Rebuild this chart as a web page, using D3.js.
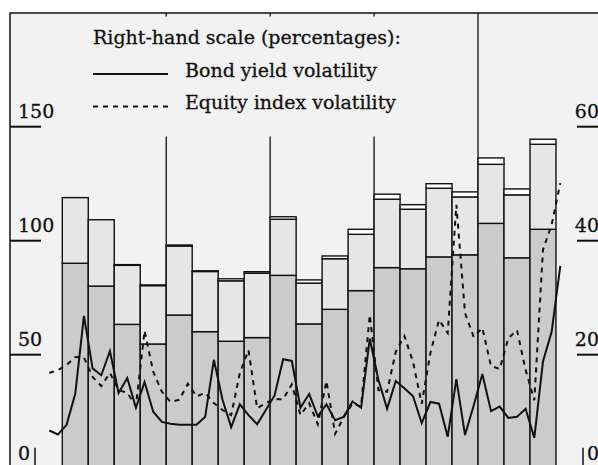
<!DOCTYPE html>
<html>
<head>
<meta charset="utf-8">
<script src="https://cdn.jsdelivr.net/npm/d3@7"></script>
<style>
  html, body { margin: 0; padding: 0; background: #fff; }
  svg { display: block; }
  text { font-family: "DejaVu Serif", "Liberation Serif", serif; fill: #111; stroke: #111; stroke-width: 0.3px; }
</style>
</head>
<body>
<div id="chart"></div>
<script>
var width = 598,
    height = 465;

// quarters (stacked bars, left-hand scale)
var quarters = ["Q1 Y1","Q2 Y1","Q3 Y1","Q4 Y1",
                "Q1 Y2","Q2 Y2","Q3 Y2","Q4 Y2",
                "Q1 Y3","Q2 Y3","Q3 Y3","Q4 Y3",
                "Q1 Y4","Q2 Y4","Q3 Y4","Q4 Y4",
                "Q1 Y5","Q2 Y5","Q3 Y5"];
var lowerPart = [90.1, 80.1, 63.3, 54.7, 67.4, 60.1, 55.9, 57.5, 84.8, 63.5,
                 69.9, 78.1, 88.2, 87.7, 92.9, 93.8, 107.6, 92.5, 105.0];
var upperPart = [28.8, 29.1, 25.9, 25.6, 30.3, 26.4, 26.5, 28.2, 24.6, 17.9,
                 22.2, 24.7, 30.0, 26.1, 30.1, 25.4, 25.9, 27.6, 37.3];
var topPart   = [0.0, 0.0, 0.3, 0.3, 0.4, 0.3, 0.9, 0.7, 1.1, 1.4,
                 1.2, 2.2, 2.2, 2.0, 2.0, 2.2, 2.8, 2.6, 2.2];

// monthly volatilities (right-hand scale, percentages)
var bondVol = [6.7, 6.0, 7.7, 13.2, 26.8, 17.6, 16.4, 20.6, 13.3, 15.9,
               10.7, 15.2, 10.0, 8.2, 7.9, 7.7, 7.7, 7.7, 9.1, 19.1,
               12.1, 7.3, 11.3, 9.4, 7.8, 10.3, 12.8, 19.2, 18.9, 10.7,
               13.1, 9.2, 11.3, 8.5, 9.1, 11.8, 10.7, 22.8, 15.6, 10.5,
               15.4, 14.1, 12.7, 8.0, 11.7, 11.4, 5.6, 15.7, 5.9, 11.1,
               16.6, 10.1, 10.9, 8.9, 9.1, 10.5, 5.4, 18.8, 24.0, 35.6];
var equityVol = [16.8, 17.3, 18.2, 19.6, 19.5, 16.1, 14.5, 16.8, 13.8, 13.3,
                 11.0, 24.2, 17.0, 13.5, 11.7, 12.1, 14.9, 12.7, 13.3, 11.5,
                 10.3, 9.4, 16.8, 20.8, 10.6, 11.5, 12.2, 12.2, 14.8, 9.4,
                 11.5, 7.8, 15.4, 6.1, 9.1, 11.4, 10.9, 27.0, 13.8, 13.5,
                 20.5, 23.3, 18.7, 11.4, 20.3, 26.1, 23.8, 46.3, 27.3, 23.1,
                 24.7, 18.0, 17.5, 22.9, 24.3, 17.3, 12.0, 38.4, 42.8, 50.1];

var leftTicks = [0, 50, 100, 150];
var rightTicks = [0, 20, 40, 60];
var yearBreaks = [13.5, 25.5, 37.5, 49.5];   // in months

var svg = d3.select("#chart")
    .append("svg")
    .attr("width", width)
    .attr("height", height);

// month index -> x
var x = d3.scaleLinear().domain([0, 59]).range([49.3, 560.3]);
var yL = d3.scaleLinear().domain([0, 150]).range([468.7, 126.7]);
var yR = d3.scaleLinear().domain([0, 60]).range([468.7, 126.7]);

/* background and frame */
svg.append("rect")
    .attr("x", 10).attr("y", 13)
    .attr("width", width - 10).attr("height", height - 13)
    .style("fill", "#f2f2f2");
svg.append("path")
    .attr("d", "M10," + height + "V13H" + width)
    .style("fill", "none").style("stroke", "#111").style("stroke-width", 1.5);

/* year separators */
svg.selectAll(".year")
    .data(yearBreaks)
    .enter().append("line")
    .attr("x1", function(d) { return x(d); })
    .attr("x2", function(d) { return x(d); })
    .attr("y1", 13).attr("y2", height)
    .style("stroke", "#111").style("stroke-width", 1.3);

/* legend (its background hides the separators) */
svg.append("rect")
    .attr("x", 84).attr("y", 16.5).attr("width", 340).attr("height", 120)
    .style("fill", "#f2f2f2");
svg.append("text").attr("x", 93).attr("y", 43.5)
    .style("font-size", "19px").text("Right-hand scale (percentages):");
svg.append("line").attr("x1", 93).attr("x2", 168).attr("y1", 74).attr("y2", 74)
    .style("stroke", "#111").style("stroke-width", 2);
svg.append("text").attr("x", 185).attr("y", 76.5)
    .style("font-size", "19px").text("Bond yield volatility");
svg.append("line").attr("x1", 93).attr("x2", 168).attr("y1", 106.5).attr("y2", 106.5)
    .style("stroke", "#111").style("stroke-width", 2).style("stroke-dasharray", "5,5");
svg.append("text").attr("x", 185).attr("y", 108.5)
    .style("font-size", "19px").text("Equity index volatility");

/* stacked bars */
var stacks = quarters.map(function(q, i) {
    var a = lowerPart[i], b = a + upperPart[i], c = b + topPart[i];
    return [{q: i, y0: 0, y1: a, fill: "#cbcbcb"},
            {q: i, y0: a, y1: b, fill: "#e6e6e6"},
            {q: i, y0: b, y1: c, fill: "#ffffff"}];
});
var bars = svg.append("g");
stacks.forEach(function(s) {
    bars.selectAll(null)
        .data(s.filter(function(d) { return d.y1 > d.y0; }))
        .enter().append("rect")
        .attr("x", function(d) { return x(1.5 + 3 * d.q); })
        .attr("width", function(d) { return x(4.5 + 3 * d.q) - x(1.5 + 3 * d.q); })
        .attr("y", function(d) { return yL(d.y1); })
        .attr("height", function(d) { return yL(d.y0) - yL(d.y1); })
        .style("fill", function(d) { return d.fill; })
        .style("stroke", "#111")
        .style("stroke-width", 1.4);
});

/* volatility lines */
var line = d3.line()
    .x(function(d, i) { return x(i); })
    .y(function(d) { return yR(d); });
svg.append("path").datum(equityVol).attr("d", line)
    .style("fill", "none").style("stroke", "#111").style("stroke-width", 2)
    .style("stroke-dasharray", "5,5");
svg.append("path").datum(bondVol).attr("d", line)
    .style("fill", "none").style("stroke", "#111").style("stroke-width", 2);

/* axes: left */
var lt = svg.append("g").selectAll("g").data(leftTicks).enter().append("g");
lt.append("line")
    .attr("x1", 10).attr("x2", 41)
    .attr("y1", function(d) { return yL(d); })
    .attr("y2", function(d) { return yL(d); })
    .style("stroke", "#111").style("stroke-width", 2);
lt.append("text")
    .attr("x", 18)
    .attr("y", function(d) { return yL(d) - 8.5; })
    .style("font-size", "19px")
    .text(function(d) { return d; });

/* axes: right */
var rt = svg.append("g").selectAll("g").data(rightTicks).enter().append("g");
rt.append("line")
    .attr("x1", 577).attr("x2", width)
    .attr("y1", function(d) { return yR(d); })
    .attr("y2", function(d) { return yR(d); })
    .style("stroke", "#111").style("stroke-width", 2);
rt.append("text")
    .attr("x", 599)
    .attr("text-anchor", "end")
    .attr("y", function(d) { return yR(d) - 8.5; })
    .style("font-size", "19px")
    .text(function(d) { return d; });

/* the zero marks */
svg.append("line").attr("x1", 35).attr("x2", 35).attr("y1", yL(0) - 21).attr("y2", height)
    .style("stroke", "#111").style("stroke-width", 1.5);
svg.append("line").attr("x1", 583).attr("x2", 583).attr("y1", yR(0) - 21).attr("y2", height)
    .style("stroke", "#111").style("stroke-width", 1.5);
</script>
</body>
</html>
